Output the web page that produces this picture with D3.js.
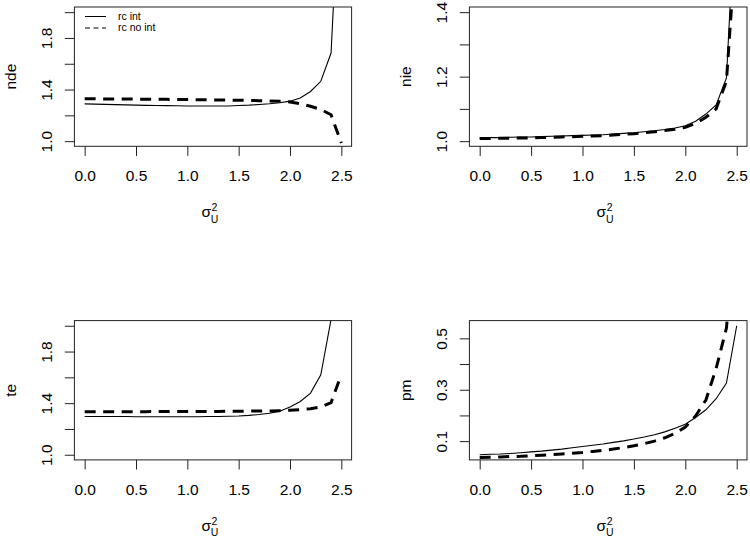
<!DOCTYPE html>
<html>
<head>
<meta charset="utf-8">
<script src="https://cdn.jsdelivr.net/npm/d3@7"></script>
<style>
    body { margin: 0; background: #ffffff; }
    svg { display: block; font-family: "Liberation Sans", Arial, Helvetica, sans-serif; }
</style>
</head>
<body>
<div id="chart"></div>
<script>
// x grid: sigma_U^2
const sigmaU2 = [0.0, 0.1, 0.2, 0.3, 0.4, 0.5, 0.6, 0.7, 0.8, 0.9, 1.0, 1.1, 1.2,
    1.3, 1.4, 1.5, 1.6, 1.7, 1.8, 1.9, 2.0, 2.1, 2.2, 2.3, 2.4, 2.5];
const xTicks = [0, 0.5, 1.0, 1.5, 2.0, 2.5];
const legendLabels = ['rc int', 'rc no int'];

// "rc int" (solid) and "rc no int" (dashed) for each measure
const ndeInt = [1.289, 1.287, 1.285, 1.283, 1.281, 1.279, 1.277, 1.276, 1.275, 1.274, 1.273, 1.272, 1.272,
    1.272, 1.273, 1.276, 1.279, 1.284, 1.290, 1.298, 1.310, 1.335, 1.385, 1.464, 1.683, 3.30];
const ndeNoInt = [1.328, 1.328, 1.327, 1.327, 1.326, 1.326, 1.325, 1.325, 1.324, 1.323, 1.322, 1.321, 1.320,
    1.319, 1.318, 1.317, 1.316, 1.314, 1.312, 1.309, 1.304, 1.290, 1.270, 1.246, 1.205, 0.985];
const nieInt = [1.010, 1.011, 1.011, 1.012, 1.013, 1.013, 1.014, 1.015, 1.016, 1.017, 1.018, 1.019, 1.020,
    1.022, 1.024, 1.026, 1.029, 1.032, 1.036, 1.041, 1.048, 1.062, 1.084, 1.112, 1.196, 1.82];
const nieNoInt = [1.008, 1.008, 1.009, 1.009, 1.010, 1.010, 1.011, 1.012, 1.013, 1.014, 1.015, 1.016, 1.017,
    1.019, 1.021, 1.023, 1.026, 1.029, 1.033, 1.037, 1.043, 1.055, 1.074, 1.100, 1.186, 1.65];
const teInt = [1.297, 1.297, 1.296, 1.296, 1.296, 1.295, 1.295, 1.295, 1.295, 1.295, 1.295, 1.295, 1.296,
    1.296, 1.298, 1.300, 1.305, 1.312, 1.322, 1.338, 1.370, 1.413, 1.478, 1.620, 2.05, 6.0];
const teNoInt = [1.333, 1.333, 1.333, 1.334, 1.334, 1.334, 1.334, 1.335, 1.335, 1.335, 1.335, 1.336, 1.336,
    1.336, 1.337, 1.337, 1.338, 1.339, 1.340, 1.342, 1.345, 1.350, 1.357, 1.370, 1.404, 1.622];
const pmInt = [0.047, 0.049, 0.050, 0.052, 0.055, 0.058, 0.061, 0.065, 0.069, 0.074, 0.079, 0.084, 0.089,
    0.095, 0.101, 0.108, 0.116, 0.125, 0.136, 0.150, 0.166, 0.192, 0.222, 0.265, 0.326, 0.549];
const pmNoInt = [0.036, 0.037, 0.038, 0.040, 0.041, 0.043, 0.045, 0.047, 0.050, 0.053, 0.056, 0.060, 0.064,
    0.069, 0.075, 0.082, 0.090, 0.100, 0.113, 0.130, 0.155, 0.198, 0.260, 0.383, 0.540, 1.000];

// y axis limits and ticks
const ndeLim = [1.0, 2.0];
const nieLim = [1.0, 1.4];
const teLim = [1.0, 2.0];
const pmLim = [0.047, 0.549];
const ndeTicks = [1.0, 1.2, 1.4, 1.6, 1.8, 2.0];
const nieTicks = [1.0, 1.1, 1.2, 1.3, 1.4];
const teTicks = [1.0, 1.2, 1.4, 1.6, 1.8, 2.0];
const pmTicks = [0.1, 0.2, 0.3, 0.4, 0.5];
const ndeLabels = ['1.0', '1.4', '1.8'];
const nieLabels = ['1.0', '1.2', '1.4'];
const teLabels = ['1.0', '1.4', '1.8'];
const pmLabels = ['0.1', '0.3', '0.5'];

const W = 750, H = 538;
const FONT = 15.5;
const TICK = 9.6;

const panels = [
    { name: 'nde', solid: ndeInt, dashed: ndeNoInt, lim: ndeLim, ticks: ndeTicks, labels: ndeLabels,
      box: { l: 74.4, r: 351.6, t: 7, b: 146.3 }, legend: true },
    { name: 'nie', solid: nieInt, dashed: nieNoInt, lim: nieLim, ticks: nieTicks, labels: nieLabels,
      box: { l: 469.4, r: 747, t: 7, b: 146.3 } },
    { name: 'te', solid: teInt, dashed: teNoInt, lim: teLim, ticks: teTicks, labels: teLabels,
      box: { l: 74.4, r: 351.6, t: 320.6, b: 459.9 } },
    { name: 'pm', solid: pmInt, dashed: pmNoInt, lim: pmLim, ticks: pmTicks, labels: pmLabels,
      box: { l: 469.4, r: 747, t: 320.6, b: 459.9 } }
];

const svg = d3.select('#chart').append('svg')
    .attr('width', W)
    .attr('height', H)
    .attr('viewBox', `0 0 ${W} ${H}`);

// R style 4% axis extension
function extend(lim) {
    const r = lim[1] - lim[0];
    return [lim[0] - 0.04 * r, lim[1] + 0.04 * r];
}

panels.forEach((p, i) => {
    const b = p.box;
    const x = d3.scaleLinear().domain(extend([sigmaU2[0], sigmaU2[sigmaU2.length - 1]])).range([b.l, b.r]);
    const y = d3.scaleLinear().domain(extend(p.lim)).range([b.b, b.t]);
    const g = svg.append('g');

    const clipId = 'clip' + i;
    svg.append('clipPath').attr('id', clipId)
        .append('rect')
        .attr('x', b.l).attr('y', b.t)
        .attr('width', b.r - b.l).attr('height', b.b - b.t);

    const line = d3.line()
        .x((d, k) => x(sigmaU2[k]))
        .y(d => y(d));

    const lines = g.append('g').attr('clip-path', `url(#${clipId})`);
    lines.append('path')
        .datum(p.solid)
        .attr('d', line)
        .attr('fill', 'none')
        .attr('stroke', '#000')
        .attr('stroke-width', 1.1);
    lines.append('path')
        .datum(p.dashed)
        .attr('d', line)
        .attr('fill', 'none')
        .attr('stroke', '#000')
        .attr('stroke-width', 3)
        .attr('stroke-dasharray', '11,7.5');

    // box
    g.append('rect')
        .attr('x', b.l).attr('y', b.t)
        .attr('width', b.r - b.l).attr('height', b.b - b.t)
        .attr('fill', 'none')
        .attr('stroke', '#222')
        .attr('stroke-width', 1);

    // x axis
    const xAxis = g.append('g')
        .attr('transform', `translate(0,${b.b})`)
        .call(d3.axisBottom(x).tickValues(xTicks).tickFormat(d3.format('.1f'))
            .tickSize(TICK).tickSizeOuter(0).tickPadding(14.5));
    xAxis.select('.domain').remove();
    xAxis.selectAll('line').attr('stroke', '#222');
    xAxis.selectAll('text').attr('font-size', FONT).attr('fill', '#000')
        .attr('font-family', '"Liberation Sans", Arial, sans-serif');

    // y axis, labels rotated
    const yAxis = g.append('g')
        .attr('transform', `translate(${b.l},0)`)
        .call(d3.axisLeft(y).tickValues(p.ticks)
            .tickFormat(d => { const s = d3.format('.1f')(d); return p.labels.includes(s) ? s : ''; })
            .tickSize(TICK).tickSizeOuter(0));
    yAxis.select('.domain').remove();
    yAxis.selectAll('line').attr('stroke', '#222');
    yAxis.selectAll('text')
        .attr('x', null).attr('y', null).attr('dy', '0.35em')
        .attr('text-anchor', 'middle')
        .attr('transform', 'translate(-27.7,0) rotate(-90)')
        .attr('font-size', FONT).attr('fill', '#000')
        .attr('font-family', '"Liberation Sans", Arial, sans-serif');

    // y title
    const yc = (b.t + b.b) / 2;
    g.append('text')
        .attr('transform', `translate(${b.l - 64},${yc}) rotate(-90)`)
        .attr('dy', '0.35em')
        .attr('text-anchor', 'middle')
        .attr('font-size', FONT)
        .text(p.name);

    // x title: sigma_U^2
    const xc = (b.l + b.r) / 2;
    const xt = g.append('g').attr('transform', `translate(${xc},${b.b})`);
    xt.append('text')
        .attr('x', -2).attr('y', 71)
        .attr('text-anchor', 'end')
        .attr('font-size', FONT)
        .text('σ');
    xt.append('text')
        .attr('x', -1.5).attr('y', 65)
        .attr('font-size', 10.5)
        .text('2');
    xt.append('text')
        .attr('x', -2.2).attr('y', 76.5)
        .attr('font-size', 10.5)
        .text('U');

    if (p.legend) {
        const lg = g.append('g');
        const rows = [
            { label: legendLabels[0], dash: null, y: 16.5 },
            { label: legendLabels[1], dash: '5,3.5', y: 28 }
        ];
        rows.forEach(r => {
            lg.append('line')
                .attr('x1', 85).attr('x2', 106)
                .attr('y1', r.y).attr('y2', r.y)
                .attr('stroke', '#000')
                .attr('stroke-width', 1)
                .attr('stroke-dasharray', r.dash);
            lg.append('text')
                .attr('x', 118).attr('y', r.y)
                .attr('dy', '0.33em')
                .attr('font-size', 10.5)
                .text(r.label);
        });
    }
});
</script>
</body>
</html>
